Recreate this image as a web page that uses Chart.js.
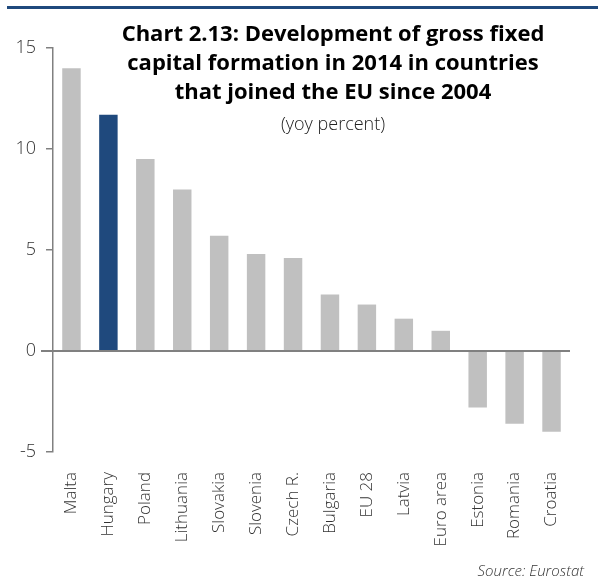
<!DOCTYPE html>
<html>
<head>
<meta charset="utf-8">
<script src="https://cdn.jsdelivr.net/npm/chart.js@4.4.0/dist/chart.umd.min.js"></script>
<style>
  body { margin: 0; background: #fff; }
  #wrap { position: relative; width: 598px; height: 583px; }
  #topline { position: absolute; left: 7px; top: 6px; width: 591px; height: 3px; background: #1f497d; }
  #title { position: absolute; left: 83px; top: 18px; width: 500px; text-align: center;
           font-family: "Open Sans", sans-serif; color: #000; }
  #title b { display: block; font-size: 22px; line-height: 29px; font-weight: 700; }
  #title span { display: block; font-size: 18px; line-height: 36px; font-weight: 300; color: #222; }
  #source { position: absolute; right: 14px; top: 560px; font-family: "Open Sans", sans-serif;
            font-style: italic; font-size: 15px; color: #333; font-weight: 300; }
</style>
</head>
<body>
<div id="wrap">
  <canvas id="bar-chart" width="598" height="583"></canvas>
  <div id="topline"></div>
  <div id="title"><b>Chart 2.13: Development of gross fixed<br>capital formation in 2014 in countries<br>that joined the EU since 2004</b><span>(yoy percent)</span></div>
  <div id="source">Source: Eurostat</div>
</div>
<script>
var countries = ['Malta', 'Hungary', 'Poland', 'Lithuania', 'Slovakia', 'Slovenia', 'Czech R.',
    'Bulgaria', 'EU 28', 'Latvia', 'Euro area', 'Estonia', 'Romania', 'Croatia'];
var growth = [14.0, 11.7, 9.5, 8.0, 5.7, 4.8, 4.6, 2.8, 2.3, 1.6, 1.0, -2.8, -3.6, -4.0];
var yTicks = [-5, 0, 5, 10, 15];

var barColors = countries.map(c => c == 'Hungary' ? '#1f497d' : '#c0c0c0');

// zero line across the plot
var zeroLine = {
    id: 'zeroLine',
    afterDatasetsDraw: function(chart){
        var y = chart.scales.y.getPixelForValue(0);
        var ctx = chart.ctx;
        ctx.save();
        ctx.strokeStyle = '#808080';
        ctx.lineWidth = 2;
        ctx.beginPath();
        ctx.moveTo(chart.chartArea.left - 12, Math.round(y));
        ctx.lineTo(chart.chartArea.right, Math.round(y));
        ctx.stroke();
        ctx.restore();
    }
};

var ctx = document.getElementById('bar-chart');
var chart = new Chart(ctx, {
    type: 'bar',
    data: {
        labels: countries,
        datasets: [{
            data: growth,
            backgroundColor: barColors,
            barPercentage: 0.5,
            categoryPercentage: 1.0
        }]
    },
    options: {
        responsive: false,
        animation: false,
        layout: { padding: { top: 48, right: 28, left: 0, bottom: 0 } },
        plugins: { legend: { display: false }, tooltip: { enabled: false } },
        scales: {
            x: {
                grid: { display: false },
                border: { display: false },
                ticks: {
                    minRotation: 90, maxRotation: 90, autoSkip: false,
                    color: '#333', padding: 12,
                    font: { family: 'Open Sans', size: 17, weight: 300 }
                },
                afterFit: function(scale){ scale.height = 131; }
            },
            y: {
                min: -5, max: 15,
                afterBuildTicks: function(scale){ scale.ticks = yTicks.map(v => ({ value: v })); },
                grid: { drawOnChartArea: false, tickLength: 7, color: '#808080', lineWidth: 1.5 },
                border: { color: '#808080', width: 1.5 },
                ticks: {
                    color: '#333', padding: 10,
                    font: { family: 'Open Sans', size: 18, weight: 300 }
                },
                afterFit: function(scale){ scale.width = 53; }
            }
        }
    },
    plugins: [zeroLine]
});
</script>
</body>
</html>
